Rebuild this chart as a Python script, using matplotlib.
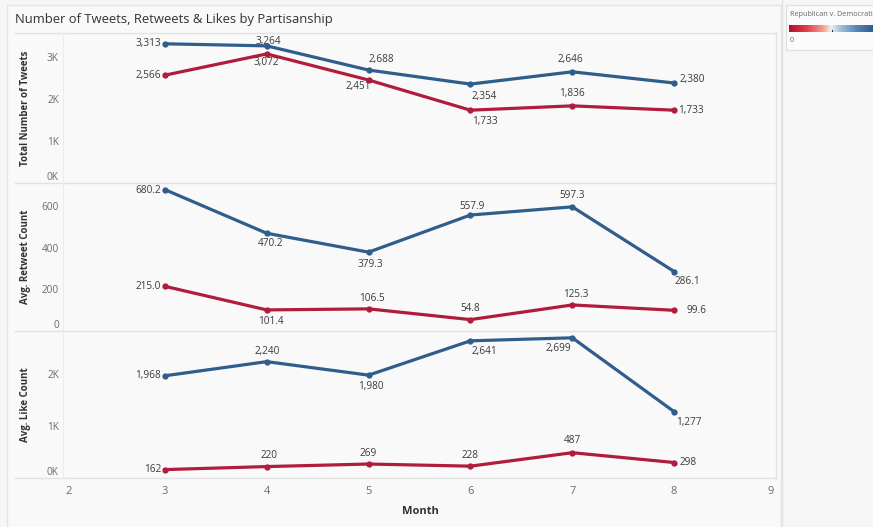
import matplotlib
matplotlib.use("Agg")
import matplotlib.pyplot as plt
import numpy as np
from matplotlib.colors import LinearSegmentedColormap
from matplotlib.lines import Line2D
from matplotlib.patches import Rectangle

# ---- data -------------------------------------------------------------
months = [3, 4, 5, 6, 7, 8]

dem_tweets = [3313, 3264, 2688, 2354, 2646, 2380]
rep_tweets = [2566, 3072, 2451, 1733, 1836, 1733]

dem_retweets = [680.2, 470.2, 379.3, 557.9, 597.3, 286.1]
rep_retweets = [215.0, 101.4, 106.5, 54.8, 125.3, 99.6]

dem_likes = [1968, 2240, 1980, 2641, 2699, 1277]
rep_likes = [162, 220, 269, 228, 487, 298]

x_ticks = [2, 3, 4, 5, 6, 7, 8, 9]
tweet_ticks = [0, 1000, 2000, 3000]
retweet_ticks = [0, 200, 400, 600]
like_ticks = [0, 1000, 2000]

# ---- style ------------------------------------------------------------
W, H = 873, 527
BLUE = "#2f5d8c"
RED = "#b01c3c"
LABEL_C = "#3a3a3a"
TICK_C = "#6b6b6b"
SEP_C = "#e2e2e2"
FONT = ["Open Sans", "DejaVu Sans"]

plt.rcParams["font.family"] = FONT

fig = plt.figure(figsize=(W / 100, H / 100), dpi=100, facecolor="#f6f6f6")


def px_rect(x0, y0, x1, y1):
    """Figure-fraction rectangle from pixel corners (origin top-left)."""
    return [x0 / W, 1 - y1 / H, (x1 - x0) / W, (y1 - y0) / H]


def fx(x):
    return x / W


def fy(y):
    return 1 - y / H


# dashboard container
fig.patches.append(Rectangle((fx(7), fy(530)), fx(781) - fx(7), fy(5) - fy(530),
                             transform=fig.transFigure, facecolor="#f9f9f9",
                             edgecolor="#e4e4e4", linewidth=1, zorder=-10))

fig.text(fx(15), fy(20), "Number of Tweets, Retweets & Likes by Partisanship",
         fontsize=9.4, color="#333333", ha="left", va="center")

# horizontal separators spanning the label column
for yy in (33, 183, 331, 478):
    fig.add_artist(Line2D([fx(15), fx(776)], [fy(yy), fy(yy)],
                          transform=fig.transFigure, color=SEP_C, lw=1, zorder=-5))
fig.add_artist(Line2D([fx(776), fx(776)], [fy(33), fy(478)],
                      transform=fig.transFigure, color=SEP_C, lw=1, zorder=-5))

XL = 63
XR = 776
panels = [
    dict(top=33, bot=183, dem=dem_tweets, rep=rep_tweets, ticks=tweet_ticks,
         ymax=3570, fmt=lambda v: f"{v:,.0f}", tfmt=lambda v: f"{v/1000:.0f}K",
         title="Total Number of Tweets",
         dem_off=[(-4, 0, "right"), (2, 4, "center"), (13, 11, "center"),
                  (14, -12, "center"), (-2, 12, "center"), (5, 3, "left")],
         rep_off=[(-4, 0, "right"), (0, -9, "center"), (-10, -6, "center"),
                  (14, -11, "center"), (0, 12, "center"), (4, 0, "left")]),
    dict(top=183, bot=331, dem=dem_retweets, rep=rep_retweets, ticks=retweet_ticks,
         ymax=712, fmt=lambda v: f"{v:.1f}", tfmt=lambda v: f"{v:.0f}",
         title="Avg. Retweet Count",
         dem_off=[(-4, -1, "right"), (4, -10, "center"), (2, -12, "center"),
                  (2, 9, "center"), (0, 11, "center"), (0, -10, "left")],
         rep_off=[(-4, 0, "right"), (4, -12, "center"), (3, 10, "center"),
                  (0, 11, "center"), (3, 10, "center"), (12, 0, "left")]),
    dict(top=331, bot=478, dem=dem_likes, rep=rep_likes, ticks=like_ticks,
         ymax=2830, fmt=lambda v: f"{v:,.0f}", tfmt=lambda v: f"{v/1000:.0f}K",
         title="Avg. Like Count",
         dem_off=[(-4, 0, "right"), (1, 10, "center"), (2, -11, "center"),
                  (14, -11, "center"), (-14, -11, "center"), (15, -11, "center")],
         rep_off=[(-4, 0, "right"), (2, 11, "center"), (0, 11, "center"),
                  (0, 11, "center"), (0, 12, "center"), (5, 0, "left")]),
]

axes = []
for i, p in enumerate(panels):
    ax = fig.add_axes(px_rect(XL, p["top"], XR, p["bot"]), zorder=2)
    ax.patch.set_alpha(0)
    ax.set_xlim(2, 9)
    ax.set_ylim(0, p["ymax"])
    for s in ("top", "right", "bottom"):
        ax.spines[s].set_visible(False)
    ax.spines["left"].set_color("#ececec")
    ax.spines["left"].set_linewidth(0.8)
    ax.tick_params(axis="both", length=0)
    ax.set_xticks([])
    ax.set_yticks(p["ticks"])
    ax.set_yticklabels([p["tfmt"](v) for v in p["ticks"]], color=TICK_C,
                       fontsize=7.2)
    ax.tick_params(axis="y", pad=3)
    lbls = ax.get_yticklabels()
    lbls[0].set_va("bottom")

    for vals, col, offs in ((p["dem"], BLUE, p["dem_off"]),
                            (p["rep"], RED, p["rep_off"])):
        ax.plot(months, vals, color=col, lw=2.3, solid_capstyle="round",
                solid_joinstyle="round", zorder=3, clip_on=False)
        ax.plot(months, vals, "o", color=col, ms=3.5, zorder=4, clip_on=False)
        for m, v, (dx, dy, ha) in zip(months, vals, offs):
            ax.annotate(p["fmt"](v), (m, v), xytext=(dx, dy),
                        textcoords="offset pixels", ha=ha, va="center",
                        fontsize=7.2, color=LABEL_C, zorder=5)

    fig.text(fx(26), fy((p["top"] + p["bot"]) / 2), p["title"], rotation=90,
             ha="center", va="center", fontsize=7, fontweight="bold",
             color="#333333")
    axes.append(ax)

# month axis under the bottom panel
for m in x_ticks:
    ha = "left" if m == x_ticks[0] else ("right" if m == x_ticks[-1] else "center")
    xp = XL + (m - 2) / 7 * (XR - XL)
    if m == x_ticks[0]:
        xp += 2
    if m == x_ticks[-1]:
        xp -= 2
    fig.text(fx(xp), fy(492), str(m), ha=ha, va="center", fontsize=8,
             color=TICK_C)
fig.text(fx(420), fy(511), "Month", ha="center", va="center", fontsize=8,
         fontweight="bold", color="#333333")

# right sidebar divider and colour legend
fig.add_artist(Line2D([fx(782), fx(782)], [0, 1], transform=fig.transFigure,
                      color="#e4e4e4", lw=1, zorder=-5))
fig.patches.append(Rectangle((fx(786), fy(50)), fx(890) - fx(786), fy(5) - fy(50),
                             transform=fig.transFigure, facecolor="#fbfbfb",
                             edgecolor="#dedede", linewidth=0.8, zorder=-5))
fig.text(fx(790), fy(15), "Republican v. Democratic", ha="left", va="center",
         fontsize=5.2, color="#666666")
cmap = LinearSegmentedColormap.from_list(
    "rb", [(0.0, "#b0102e"), (0.2, "#de3a48"), (0.42, "#f5a796"),
           (0.5, "#eef1f4"), (0.6, "#a9c4de"), (0.8, "#5787b8"),
           (1.0, "#2f5d8c")])
cax = fig.add_axes(px_rect(789, 25, 873, 32), zorder=2)
cax.imshow(np.linspace(0, 1, 256)[None, :], aspect="auto", cmap=cmap,
           extent=[0, 1, 0, 1])
cax.axvline(0.51, ymin=0, ymax=0.3, color="#333333", lw=0.8)
cax.set_axis_off()
fig.text(fx(790), fy(41), "0", ha="left", va="center", fontsize=5,
         color="#666666")

fig.savefig("out.png", dpi=100, facecolor=fig.get_facecolor())
